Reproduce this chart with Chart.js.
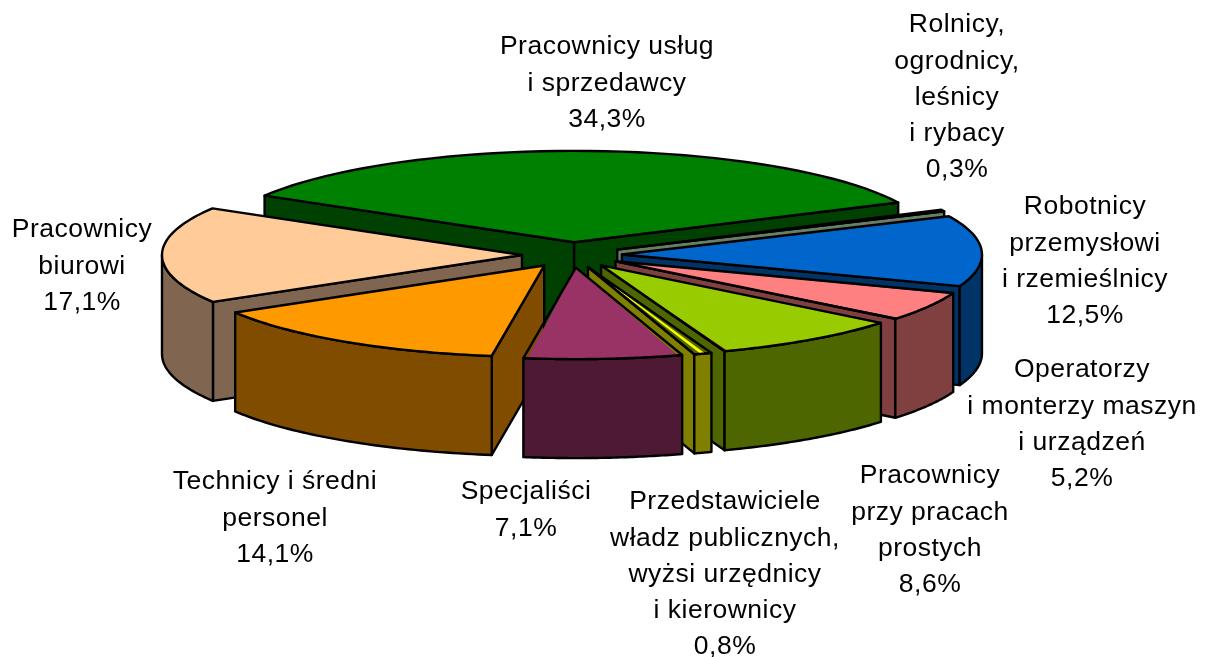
<!DOCTYPE html>
<html lang="pl">
<head>
<meta charset="utf-8">
<title>Pracujący według grup zawodów</title>
<script src="https://cdn.jsdelivr.net/npm/chart.js@4/dist/chart.umd.min.js"></script>
<style>
  html, body { margin: 0; padding: 0; background: #fff; }
  canvas { display: block; }
</style>
</head>
<body>
<canvas id="pie" width="1214" height="657"></canvas>
<script>
// Dane
const categories = [
  ["Pracownicy usług", "i sprzedawcy"],
  ["Rolnicy,", "ogrodnicy,", "leśnicy", "i rybacy"],
  ["Robotnicy", "przemysłowi", "i rzemieślnicy"],
  ["Operatorzy", "i monterzy maszyn", "i urządzeń"],
  ["Pracownicy", "przy pracach", "prostych"],
  ["Przedstawiciele", "władz publicznych,", "wyżsi urzędnicy", "i kierownicy"],
  ["Specjaliści"],
  ["Technicy i średni", "personel"],
  ["Pracownicy", "biurowi"]
];
const shares = [34.3, 0.3, 12.5, 5.2, 8.6, 0.8, 7.1, 14.1, 17.1];

// Kolory
const topColors = ["#008000", "#CCFFCC", "#0066CC", "#FF8080", "#99CC00", "#FFFF00", "#993366", "#FF9900", "#FFCC99"];
const wallColors = ["#004000", "#667F66", "#003366", "#804040", "#4D6600", "#808000", "#4D1933", "#804D00", "#806650"];

// Etykiety: środek tekstu x, y pierwszej linii
const labelX = [607, 957, 1085, 1082, 930, 725, 526, 275, 82];
const labelY = [47, 25, 207, 370, 476, 502, 492, 482, 230];
const lineStep = 36.2;

// Wygląd 3D
const squash = 0.254;
const depth = 99;
const drawOrder = [0, 1, 8, 2, 3, 7, 4, 5, 6];

function wallPath(ctx, points) {
  ctx.beginPath();
  points.forEach((p, i) => {
    if (i === 0) ctx.moveTo(p.x, p.y);
    else ctx.lineTo(p.x, p.y);
  });
  ctx.closePath();
}

function paintWall(ctx, points, color) {
  wallPath(ctx, points);
  ctx.fillStyle = color;
  ctx.fill();
  ctx.stroke();
}

const pie3d = {
  id: "pie3d",
  // zwykłe rysowanie wyłączone, plasterki rysujemy niżej
  beforeDatasetDraw() {
    return false;
  },
  afterDatasetsDraw(chart) {
    const ctx = chart.ctx;
    const arcs = chart.getDatasetMeta(0).data;

    drawOrder.forEach((i) => {
      const arc = arcs[i];
      const mid = (arc.startAngle + arc.endAngle) / 2;
      const shift = arc.options.offset / 4;
      const ox = Math.cos(mid) * shift;
      const oy = Math.sin(mid) * shift;
      const r = arc.outerRadius;

      const at = (angle, radius, drop) => ({
        x: arc.x + ox + Math.cos(angle) * radius,
        y: arc.y + (oy + Math.sin(angle) * radius) * squash + drop
      });

      ctx.save();
      ctx.strokeStyle = "#000";
      ctx.lineWidth = 2.4;
      ctx.lineJoin = "round";

      // ścianki promieniowe, tylko te zwrócone do widza
      if (Math.cos(arc.startAngle) < 0) {
        const a = arc.startAngle;
        paintWall(ctx, [at(a, 0, 0), at(a, r, 0), at(a, r, depth), at(a, 0, depth)], wallColors[i]);
      }
      if (Math.cos(arc.endAngle) > 0) {
        const a = arc.endAngle;
        paintWall(ctx, [at(a, 0, 0), at(a, r, 0), at(a, r, depth), at(a, 0, depth)], wallColors[i]);
      }

      // ścianka zewnętrzna, tylko przednia część
      const from = Math.max(arc.startAngle, 0);
      const to = Math.min(arc.endAngle, Math.PI);
      if (to > from) {
        const upper = [];
        const lower = [];
        for (let s = 0; s <= 48; s++) {
          const a = from + (to - from) * s / 48;
          upper.push(at(a, r, 0));
          lower.unshift(at(a, r, depth));
        }
        paintWall(ctx, upper.concat(lower), wallColors[i]);
      }

      const rim = [at(arc.startAngle, 0, 0)];
      for (let s = 0; s <= 48; s++) {
        rim.push(at(arc.startAngle + (arc.endAngle - arc.startAngle) * s / 48, r, 0));
      }

      // wierzch plasterka; Chart.js powiększa promień wąskich plasterków, więc przycinamy
      ctx.save();
      wallPath(ctx, rim);
      ctx.clip();
      ctx.translate(arc.x, arc.y);
      ctx.scale(1, squash);
      ctx.translate(-arc.x, -arc.y);
      arc.draw(ctx);
      ctx.restore();

      wallPath(ctx, rim);
      ctx.stroke();
      ctx.restore();
    });

    // etykiety
    ctx.save();
    ctx.fillStyle = "#000";
    ctx.font = '26.5px "Liberation Sans", Arial, sans-serif';
    ctx.letterSpacing = "0.5px";
    ctx.textAlign = "center";
    ctx.textBaseline = "middle";
    categories.forEach((lines, i) => {
      const value = shares[i].toFixed(1).replace(".", ",") + "%";
      lines.concat(value).forEach((line, n) => {
        ctx.fillText(line, labelX[i], labelY[i] + n * lineStep);
      });
    });
    ctx.restore();
  }
};

new Chart(document.getElementById("pie"), {
  type: "pie",
  data: {
    labels: categories.map((lines) => lines.join(" ")),
    datasets: [{
      data: shares,
      backgroundColor: topColors,
      borderWidth: 0,
      offset: 200
    }]
  },
  options: {
    responsive: false,
    animation: false,
    rotation: -59.3,
    radius: 360,
    layout: { padding: { left: 0, right: 70, top: 0, bottom: 147 } },
    events: [],
    plugins: {
      legend: { display: false },
      tooltip: { enabled: false },
      title: { display: false }
    }
  },
  plugins: [pie3d]
});
</script>
</body>
</html>
